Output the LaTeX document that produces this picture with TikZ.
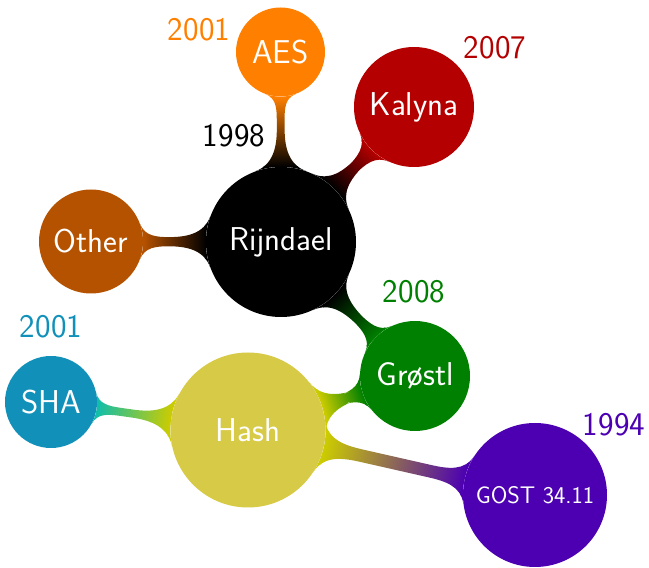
\documentclass[tikz,border=0pt]{standalone}
\usetikzlibrary{mindmap,backgrounds}
\definecolor{cAES}{RGB}{255,128,0}
\definecolor{cKal}{RGB}{180,0,0}
\definecolor{cOth}{RGB}{181,82,0}
\definecolor{cGro}{RGB}{0,128,0}
\definecolor{cHash}{RGB}{215,202,70}
\definecolor{cHashB}{RGB}{204,204,0}
\definecolor{cSHA}{RGB}{17,145,185}
\definecolor{cSHAB}{RGB}{16,190,170}
\definecolor{cGost}{RGB}{76,0,178}
\begin{document}
\begin{tikzpicture}[x=1pt,y=1pt,
  cpt/.style={circle, text centered, inner sep=0pt, text=white, font=\fontsize{33}{40}\selectfont\sffamily},
  yr/.style={font=\fontsize{33}{40}\selectfont\sffamily},
  bar/.style={line width=11pt}]
\useasboundingbox (0,0) rectangle (649,568);
\node[cpt, fill=black, minimum size=150pt] (rij) at (281,326) {Rijndael};
\node[cpt, fill=cAES, minimum size=89pt] (aes) at (280.5,516) {AES};
\node[cpt, fill=cKal, minimum size=120pt] (kal) at (414,461) {Kalyna};
\node[cpt, fill=cOth, minimum size=104pt] (oth) at (91,326.5) {Other};
\node[cpt, fill=cGro, minimum size=110pt] (gro) at (415,192) {Grøstl};
\node[cpt, fill=cHash, minimum size=155pt] (hash) at (248,138) {Hash};
\node[cpt, fill=cSHA, minimum size=92pt] (sha) at (51,166) {SHA};
\node[cpt, fill=cGost, minimum size=144pt, font=\fontsize{24}{29}\selectfont\sffamily] (gost) at (535,73) {GOST 34.11};
\begin{scope}[on background layer]
\path[bar] (rij) to[circle connection bar switch color=from (black) to (cAES)] (aes);
\path[bar] (rij) to[circle connection bar switch color=from (black) to (cKal)] (kal);
\path[bar] (rij) to[circle connection bar switch color=from (black) to (cOth)] (oth);
\path[bar] (rij) to[circle connection bar switch color=from (black) to (cGro)] (gro);
\path[bar] (hash) to[circle connection bar switch color=from (cHashB) to (cGro)] (gro);
\path[bar] (hash) to[circle connection bar switch color=from (cHashB) to (cSHAB)] (sha);
\path[bar] (hash) to[circle connection bar switch color=from (cHashB) to (cGost)] (gost);
\end{scope}
\node[yr, text=cAES] (y1) at (199,538) {2001};
\node[yr, text=black] (y2) at (234,432) {1998};
\node[yr, text=cKal] (y3) at (495,520) {2007};
\node[yr, text=cGro] (y4) at (414,276) {2008};
\node[yr, text=cSHA] (y5) at (51,241) {2001};
\node[yr, text=cGost] (y6) at (614,143) {1994};
\end{tikzpicture}
\end{document}
